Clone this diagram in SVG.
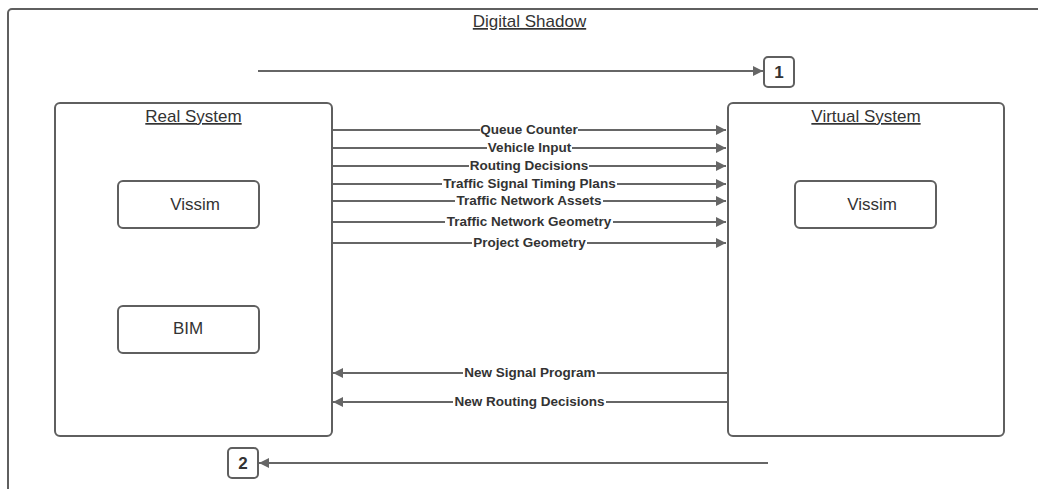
<svg xmlns="http://www.w3.org/2000/svg" width="1038" height="489" viewBox="0 0 1038 489">
<style>
.box{fill:#fff;stroke:#5f5f5f;stroke-width:2}
.frame{fill:none;stroke:#5f5f5f;stroke-width:2}
.ln{fill:none;stroke:#666;stroke-width:1.8}
.title{font-family:"Liberation Sans",Arial,sans-serif;font-size:17px;fill:#333;text-anchor:middle;text-decoration:underline}
.inner{font-family:"Liberation Sans",Arial,sans-serif;font-size:17px;fill:#333;text-anchor:middle}
.lbl{font-family:"Liberation Sans",Arial,sans-serif;font-size:13.5px;font-weight:bold;fill:#333;text-anchor:middle}
.num{font-family:"Liberation Sans",Arial,sans-serif;font-size:17px;font-weight:bold;fill:#333;text-anchor:middle}
.bg{fill:#fff}
</style>
<defs>
<marker id="ah" viewBox="0 0 10 10" refX="10" refY="5" markerWidth="13" markerHeight="10" markerUnits="userSpaceOnUse" orient="auto">
<path d="M0,0 L10,5 L0,10 z" fill="#666"/>
</marker>
</defs>
<g id="digital-shadow">
<rect class="frame" x="8" y="9" width="1100" height="600" rx="4"/>
<text class="title" x="529.5" y="27">Digital Shadow</text>
</g>
<g id="real-system">
<rect class="box" x="55" y="103" width="277" height="333" rx="5"/>
<text class="title" x="193.5" y="122">Real System</text>
</g>
<g id="real-vissim">
<rect class="box" x="118" y="181" width="141" height="47" rx="5"/>
<text class="inner" x="195" y="210">Vissim</text>
</g>
<g id="bim">
<rect class="box" x="118" y="306" width="141" height="47" rx="5"/>
<text class="inner" x="188" y="334">BIM</text>
</g>
<g id="virtual-system">
<rect class="box" x="728" y="103" width="276" height="333" rx="5"/>
<text class="title" x="866" y="122">Virtual System</text>
</g>
<g id="virtual-vissim">
<rect class="box" x="795" y="181" width="141" height="47" rx="5"/>
<text class="inner" x="872" y="210">Vissim</text>
</g>
<g id="marker-1">
<rect class="box" x="764" y="57" width="30" height="30" rx="4"/>
<text class="num" x="779" y="78">1</text>
</g>
<g id="marker-2">
<rect class="box" x="228" y="448" width="30" height="30" rx="4"/>
<text class="num" x="243" y="469">2</text>
</g>
<g id="connectors">
<line class="ln" x1="258" y1="71" x2="763" y2="71" marker-end="url(#ah)"/>
<line class="ln" x1="768" y1="463" x2="259" y2="463" marker-end="url(#ah)"/>

<line class="ln" x1="333" y1="130" x2="726" y2="130" marker-end="url(#ah)"/>
<rect class="bg" x="480" y="122" width="98" height="14"/>
<text class="lbl" x="529" y="133.5">Queue Counter</text>

<line class="ln" x1="333" y1="148" x2="726" y2="148" marker-end="url(#ah)"/>
<rect class="bg" x="487" y="140" width="85" height="14"/>
<text class="lbl" x="529.5" y="151.5">Vehicle Input</text>

<line class="ln" x1="333" y1="166" x2="726" y2="166" marker-end="url(#ah)"/>
<rect class="bg" x="469" y="158" width="120" height="14"/>
<text class="lbl" x="529" y="169.5">Routing Decisions</text>

<line class="ln" x1="333" y1="184" x2="726" y2="184" marker-end="url(#ah)"/>
<rect class="bg" x="442" y="176" width="175" height="14"/>
<text class="lbl" x="529.5" y="187.5">Traffic Signal Timing Plans</text>

<line class="ln" x1="333" y1="201" x2="726" y2="201" marker-end="url(#ah)"/>
<rect class="bg" x="455" y="193" width="148" height="14"/>
<text class="lbl" x="529" y="204.5">Traffic Network Assets</text>

<line class="ln" x1="333" y1="222" x2="726" y2="222" marker-end="url(#ah)"/>
<rect class="bg" x="445" y="214" width="168" height="14"/>
<text class="lbl" x="529" y="225.5">Traffic Network Geometry</text>

<line class="ln" x1="333" y1="243" x2="726" y2="243" marker-end="url(#ah)"/>
<rect class="bg" x="472" y="235" width="115" height="14"/>
<text class="lbl" x="529.5" y="246.5">Project Geometry</text>

<line class="ln" x1="727" y1="373" x2="333" y2="373" marker-end="url(#ah)"/>
<rect class="bg" x="463" y="365" width="134" height="14"/>
<text class="lbl" x="530" y="376.5">New Signal Program</text>

<line class="ln" x1="727" y1="402" x2="333" y2="402" marker-end="url(#ah)"/>
<rect class="bg" x="453" y="394" width="153" height="14"/>
<text class="lbl" x="529.5" y="405.5">New Routing Decisions</text>
</g>
</svg>
